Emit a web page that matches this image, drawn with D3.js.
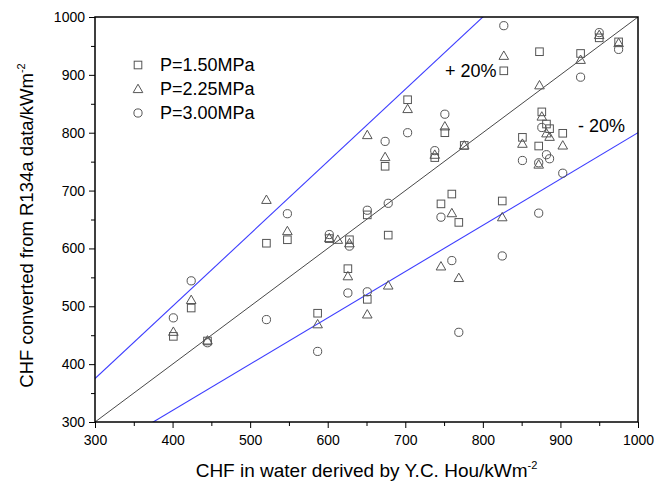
<!DOCTYPE html>
<html><head><meta charset="utf-8">
<script src="https://cdn.jsdelivr.net/npm/d3@7"></script>
<style>body{margin:0;background:#fff}svg{display:block}text{font-family:"Liberation Sans",Arial,sans-serif}</style>
</head><body>
<svg id="c" width="672" height="485"></svg>
<script>
const xTicks = [300,400,500,600,700,800,900,1000];
const yTicks = [300,400,500,600,700,800,900,1000];
const seriesNames = ["P=1.50MPa","P=2.25MPa","P=3.00MPa"];
const p150 = [[401,448],[424,497],[445,440],[521,609],[548,615],[602,617],[628,615],[626,565],[587,488],[651,512],[651,658],[674,742],[678,623],[703,857],[738,757],[751,800],[776,778],[746,677],[760,694],[769,645],[825,682],[827,907],[873,940],[851,792],[872,777],[876,836],[882,815],[886,807],[903,799],[926,937],[950,964],[975,957]];
const p225 = [[401,456],[424,511],[445,441],[521,684],[548,630],[602,618],[613,615],[628,609],[626,552],[587,469],[651,486],[651,796],[674,758],[678,536],[703,841],[738,762],[751,811],[776,778],[746,569],[760,661],[769,549],[825,654],[827,933],[873,882],[851,781],[876,828],[882,799],[886,793],[903,778],[872,745],[926,926],[950,969],[975,955]];
const p300 = [[401,480],[424,544],[445,437],[521,477],[548,660],[587,422],[602,624],[628,604],[626,523],[651,525],[651,666],[674,785],[678,678],[703,800],[738,769],[751,832],[746,654],[760,579],[769,455],[825,587],[827,985],[872,661],[851,752],[876,809],[882,762],[886,755],[872,748],[903,730],[926,896],[950,973],[975,944]];
const refFactors = [1, 1.25, 0.8];

const svg = d3.select("#c");
const L=95,R=638,T=17,B=422;
const x = d3.scaleLinear().domain([300,1000]).range([L,R]);
const y = d3.scaleLinear().domain([300,1000]).range([B,T]);
const mc = "#555";

svg.append("clipPath").attr("id","cp").append("rect").attr("x",L).attr("y",T).attr("width",R-L).attr("height",B-T);
const lg = svg.append("g").attr("clip-path","url(#cp)");
refFactors.forEach((f,i)=>{
  lg.append("line").attr("x1",x(300)).attr("y1",y(300*f)).attr("x2",x(1000)).attr("y2",y(1000*f))
    .attr("stroke", i===0?"#333":"#3d3dff").attr("stroke-width", i===0?0.9:1.1);
});

const xa = svg.append("g").attr("transform",`translate(0,${B})`)
  .call(d3.axisBottom(x).tickValues(d3.range(300,1001,50)).tickSize(6).tickSizeOuter(0)
    .tickFormat(d=>xTicks.includes(d)?d:""));
xa.selectAll(".tick line").attr("y2",d=>d%100===0?6:4).attr("stroke","#000");
xa.selectAll(".tick text").attr("font-size",14).attr("dy","1em").attr("fill","#000");
xa.select(".domain").remove();
const ya = svg.append("g").attr("transform",`translate(${L},0)`)
  .call(d3.axisLeft(y).tickValues(d3.range(300,1001,50)).tickSize(6).tickSizeOuter(0)
    .tickFormat(d=>yTicks.includes(d)?d:""));
ya.selectAll(".tick line").attr("x2",d=>d%100===0?-6:-4).attr("stroke","#000");
ya.selectAll(".tick text").attr("font-size",14).attr("x",-10).attr("fill","#000");
ya.select(".domain").remove();
svg.append("rect").attr("x",L).attr("y",T).attr("width",R-L).attr("height",B-T)
  .attr("fill","none").attr("stroke","#000").attr("stroke-width",1.5);

function sq(g,cx,cy){g.append("rect").attr("x",cx-3.8).attr("y",cy-3.8).attr("width",7.6).attr("height",7.6).attr("fill","none").attr("stroke",mc).attr("stroke-width",1);}
function tri(g,cx,cy){g.append("path").attr("d",`M${cx},${cy-4.8}L${cx+4.8},${cy+3.6}L${cx-4.8},${cy+3.6}Z`).attr("fill","none").attr("stroke",mc).attr("stroke-width",1);}
function cir(g,cx,cy){g.append("circle").attr("cx",cx).attr("cy",cy).attr("r",4.1).attr("fill","none").attr("stroke",mc).attr("stroke-width",1);}
const mk=[sq,tri,cir];
const pg = svg.append("g");
[p150,p225,p300].forEach((arr,i)=>arr.forEach(d=>mk[i](pg,x(d[0]),y(d[1]))));

seriesNames.forEach((n,i)=>{
  const yy = 65 + i*24;
  mk[i](svg,138,yy);
  svg.append("text").attr("x",160).attr("y",yy).attr("dy","0.36em").attr("font-size",18).text(n);
});

svg.append("text").attr("x",445).attr("y",77).attr("font-size",18).text("+ 20%");
svg.append("text").attr("x",578).attr("y",132).attr("font-size",18).text("- 20%");

const xt = svg.append("text").attr("x",(L+R)/2).attr("y",477).attr("text-anchor","middle").attr("font-size",19);
xt.append("tspan").text("CHF in water derived by Y.C. Hou/kWm");
xt.append("tspan").attr("font-size",11).attr("dy",-8).text("-2");
const yt = svg.append("text").attr("transform",`translate(33,${(T+B)/2+6}) rotate(-90)`).attr("text-anchor","middle").attr("font-size",18.5);
yt.append("tspan").text("CHF converted from R134a data/kWm");
yt.append("tspan").attr("font-size",11).attr("dy",-8).text("-2");
</script>
</body></html>
